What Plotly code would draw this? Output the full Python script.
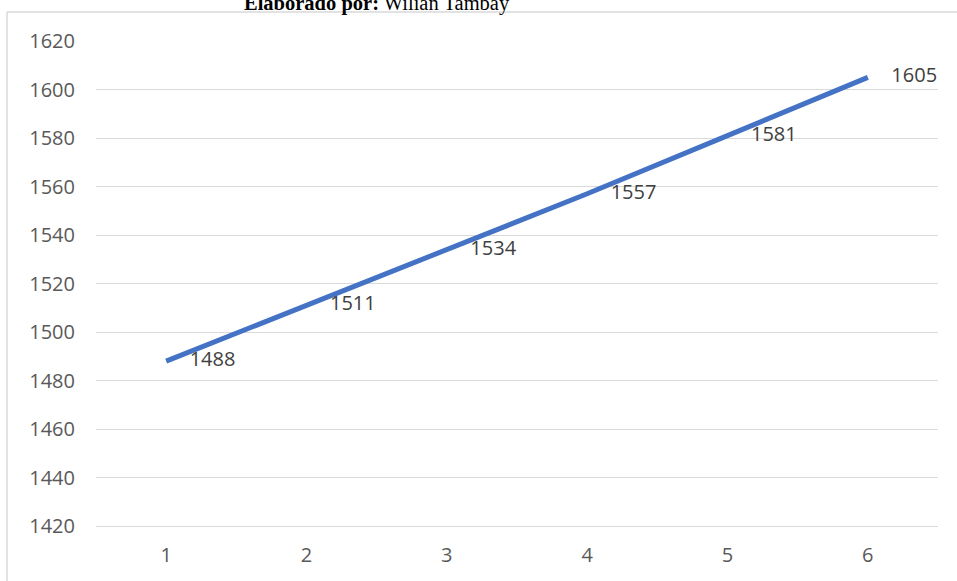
import plotly.graph_objects as go

categories = [1, 2, 3, 4, 5, 6]
values = [1488, 1511, 1534, 1557, 1581, 1605]
y_ticks = [1420, 1440, 1460, 1480, 1500, 1520, 1540, 1560, 1580, 1600, 1620]
title_bold = "Elaborado por:"
title_rest = "Wilian Tambay"

W, H = 957, 581
ml, mr, mt, mb = 96, 19, 41, 55
pw, ph = W - ml - mr, H - mt - mb

def px_to_paper_x(px):
    return (px - ml) / pw

def px_to_paper_y(py):
    return (H - mb - py) / ph

fig = go.Figure()
fig.add_trace(go.Scatter(
    x=categories, y=values,
    mode="lines+markers+text",
    line=dict(color="#4472C4", width=5),
    marker=dict(size=36, color="rgba(0,0,0,0)"),
    text=[str(v) for v in values],
    textposition="middle right",
    textfont=dict(family="Open Sans", size=20, color="#404040"),
    cliponaxis=False,
    hoverinfo="skip",
    showlegend=False,
))

grid = "#d9d9d9"
fig.update_layout(
    width=W, height=H,
    margin=dict(l=ml, r=mr, t=mt, b=mb, autoexpand=False),
    paper_bgcolor="white", plot_bgcolor="white",
    font=dict(family="Open Sans", size=20, color="#595959"),
    xaxis=dict(
        range=[0.5, 6.5], tickvals=categories, ticktext=[str(c) for c in categories],
        showgrid=False, zeroline=False, showline=True, linecolor=grid, linewidth=1,
        ticks="", ticklabelstandoff=11, fixedrange=True, automargin=False,
    ),
    yaxis=dict(
        range=[1420, 1620], tickvals=y_ticks, ticktext=[str(t) for t in y_ticks],
        showgrid=True, gridcolor=grid, gridwidth=1, zeroline=False, showline=False,
        ticks="", ticklabelstandoff=20, fixedrange=True, automargin=False,
    ),
    shapes=[
        dict(type="line", xref="paper", yref="paper",
             x0=px_to_paper_x(7), x1=px_to_paper_x(7),
             y0=px_to_paper_y(600), y1=px_to_paper_y(12),
             line=dict(color=grid, width=1.5)),
        dict(type="line", xref="paper", yref="paper",
             x0=px_to_paper_x(7), x1=px_to_paper_x(970),
             y0=px_to_paper_y(12), y1=px_to_paper_y(12),
             line=dict(color=grid, width=1.5)),
    ],
    annotations=[
        dict(xref="paper", yref="paper",
             x=px_to_paper_x(376.5), y=px_to_paper_y(3),
             xanchor="center", yanchor="middle", showarrow=False,
             text=f"<b>{title_bold}</b> {title_rest}",
             font=dict(family="Liberation Serif", size=20.5, color="black")),
    ],
)

fig.write_html(
    "out.html",
    config={"displayModeBar": False, "staticPlot": True},
    post_script="document.body.style.margin='0';document.body.style.overflow='hidden';",
)
